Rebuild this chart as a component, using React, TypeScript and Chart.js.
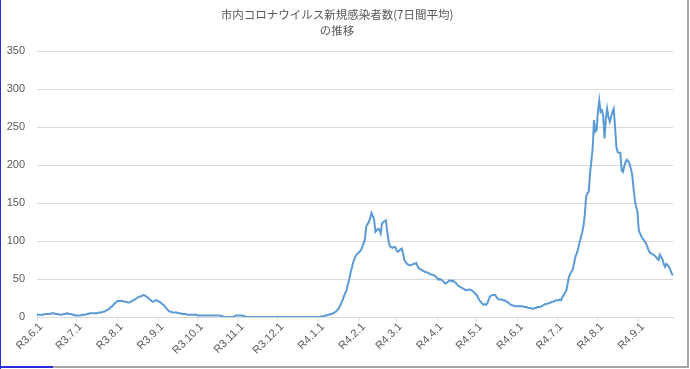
import React, { useEffect, useRef } from "react";
import { Chart, registerables } from "chart.js";

Chart.register(...registerables);

// Month prefixes (Reiwa era) for the category labels
const monthNames = [
  "R3.6", "R3.7", "R3.8", "R3.9", "R3.10", "R3.11", "R3.12",
  "R4.1", "R4.2", "R4.3", "R4.4", "R4.5", "R4.6", "R4.7", "R4.8", "R4.9",
];

// Daily 7-day-average new cases, one array per month
const jun21 = [3,3,3,3,3,3,4,4,4,4,4,5,5,5,4,4,4,3,3,3,4,4,4,5,4,4,4,3,3,2];
const jul21 = [2,2,2,2,3,3,3,3,4,4,5,5,5,5,5,5,5,6,6,6,7,7,8,9,10,11,13,14,16,18,19];
const aug21 = [21,21,21,21,21,20,20,20,19,19,20,21,22,23,24,25,26,27,27,28,29,28,27,26,24,23,21,20,21,22,22];
const sep21 = [21,20,19,17,16,14,12,10,8,7,7,6,6,6,6,5,5,5,4,4,4,4,3,3,3,3,3,3,3,3];
const oct21 = [2,2,2,2,2,2,2,2,2,2,2,2,2,2,2,2,2,2,1,1,0,0,0,0,0,0,0,0,1,2,2];
const nov21 = [2,2,2,2,1,1,0,0,0,0,0,0,0,0,0,0,0,0,0,0,0,0,0,0,0,0,0,0,0,0];
const dec21 = [0,0,0,0,0,0,0,0,0,0,0,0,0,0,0,0,0,0,0,0,0,0,0,0,0,0,0,0,0,0,0];
const jan22 = [0,0,1,1,1,2,2,3,3,4,4,5,6,7,9,11,14,18,22,27,31,35,42,49,57,64,71,76,80,83,84];
const feb22 = [86,88,92,97,101,119,122,125,130,137,133,128,112,114,116,115,110,123,125,126,127,112,100,93,92,91,92,92];
const mar22 = [88,86,87,89,90,84,75,72,70,69,68,68,69,70,70,71,67,64,63,62,61,60,59,59,58,57,56,56,55,54,53];
const apr22 = [51,49,50,49,48,46,44,45,46,48,48,47,48,46,45,43,41,40,39,38,37,36,35,36,36,36,35,34,32,30];
const may22 = [29,25,22,20,18,16,17,16,18,23,27,28,29,29,29,26,24,23,23,23,22,22,21,20,19,17,16,15,15,14,14];
const jun22 = [14,14,14,14,14,13,13,13,12,12,12,11,11,12,12,13,13,13,14,15,16,17,17,18,18,19,20,20,21,22];
const jul22 = [22,22,23,22,26,29,32,35,44,53,57,60,63,72,80,84,90,98,104,111,120,134,158,163,165,189,205,222,259,244,246];
const aug22 = [270,285,270,272,265,235,260,274,263,257,263,270,274,250,224,217,216,216,193,191,198,204,207,205,202,195,187,170,154,145,139];
const sep22 = [114,110,106,103,101,98,95,90,86,84,83,82,81,79,77,75,82,79,76,70,66,70,68,66,62,57,55];

const monthlyValues = [jun21, jul21, aug21, sep21, oct21, nov21, dec21, jan22, feb22, mar22, apr22, may22, jun22, jul22, aug22, sep22];

const titleLines = ["市内コロナウイルス新規感染者数(7日間平均)", "の推移"];
const yTicks = [0, 50, 100, 150, 200, 250, 300, 350];

const labels: string[] = [];
const dayOfMonth: number[] = [];
const values: number[] = [];
monthNames.forEach((m, i) => {
  monthlyValues[i].forEach((v, d) => {
    labels.push(`${m}.${d + 1}`);
    dayOfMonth.push(d + 1);
    values.push(v);
  });
});

const TICK_FONT = "11px 'Liberation Sans', sans-serif";
const TICK_COLOR = "#595959";

// Draws the month-start category labels rotated by 45 degrees
const rotatedXLabels = {
  id: "rotatedXLabels",
  afterDraw(chart: any) {
    const { ctx, chartArea, scales } = chart;
    const xs = scales.x;
    ctx.save();
    ctx.font = TICK_FONT;
    ctx.fillStyle = TICK_COLOR;
    ctx.textAlign = "right";
    ctx.textBaseline = "middle";
    labels.forEach((lab, i) => {
      if (dayOfMonth[i] !== 1) return;
      const x = xs.getPixelForValue(i);
      ctx.save();
      ctx.translate(x + 4, chartArea.bottom + 8);
      ctx.rotate(-Math.PI / 4);
      ctx.fillText(lab, 0, 0);
      ctx.restore();
    });
    ctx.restore();
  },
};

export default function App() {
  const ref = useRef<HTMLCanvasElement | null>(null);

  useEffect(() => {
    document.body.style.margin = "0";
    if (!ref.current) return;
    const chart = new Chart(ref.current, {
      type: "line",
      data: {
        labels,
        datasets: [
          {
            data: values,
            borderColor: "#5B9BD5",
            backgroundColor: "#5B9BD5",
            borderWidth: 2,
            pointRadius: 0,
            tension: 0,
            fill: false,
          },
        ],
      },
      plugins: [rotatedXLabels],
      options: {
        responsive: false,
        animation: false,
        layout: { padding: { left: 1, right: 17, top: 0, bottom: 0 } },
        plugins: {
          legend: { display: false },
          tooltip: { enabled: false },
          title: {
            display: true,
            text: titleLines,
            color: "#595959",
            font: { family: "'Noto Sans CJK JP', sans-serif", size: 11.5, weight: "normal", lineHeight: "16px" },
            padding: { top: 7, bottom: 12 },
          },
        },
        scales: {
          x: {
            type: "category",
            afterFit: (s: any) => { s.height = 52; },
            grid: {
              display: true,
              drawOnChartArea: false,
              drawTicks: true,
              tickLength: 4,
              color: "#d9d9d9",
              tickColor: "#d9d9d9",
            },
            border: { display: true, color: "#d9d9d9" },
            ticks: {
              autoSkip: false,
              maxRotation: 0,
              minRotation: 0,
              padding: 2,
              color: "rgba(0,0,0,0)",
              font: { family: "'Liberation Sans', sans-serif", size: 11 },
              callback: (_v: any, idx: number) => (dayOfMonth[idx] === 1 ? labels[idx] : null),
            },
          },
          y: {
            min: 0,
            max: 350,
            afterFit: (s: any) => { s.width = 36; },
            afterBuildTicks: (s: any) => { s.ticks = yTicks.map((v) => ({ value: v })); },
            grid: { color: "#d9d9d9", drawTicks: false, lineWidth: 1 },
            border: { display: false },
            ticks: {
              padding: 12,
              color: TICK_COLOR,
              font: { family: "'Liberation Sans', sans-serif", size: 11 },
            },
          },
        },
      },
    });
    return () => chart.destroy();
  }, []);

  return (
    <div style={{ position: "relative", width: 690, height: 369, background: "#fff" }}>
      <canvas ref={ref} width={690} height={369} style={{ display: "block" }} />
      <div style={{ position: "absolute", left: 0, top: 0, width: 1, height: 369, background: "#2a2ae0" }} />
      <div style={{ position: "absolute", left: 687, top: 0, width: 2, height: 368, background: "#a6a6a6" }} />
      <div style={{ position: "absolute", left: 0, top: 366, width: 689, height: 2, background: "#a6a6a6" }} />
      <div style={{ position: "absolute", left: 0, top: 366, width: 53, height: 2, background: "#2a2ae0" }} />
    </div>
  );
}
